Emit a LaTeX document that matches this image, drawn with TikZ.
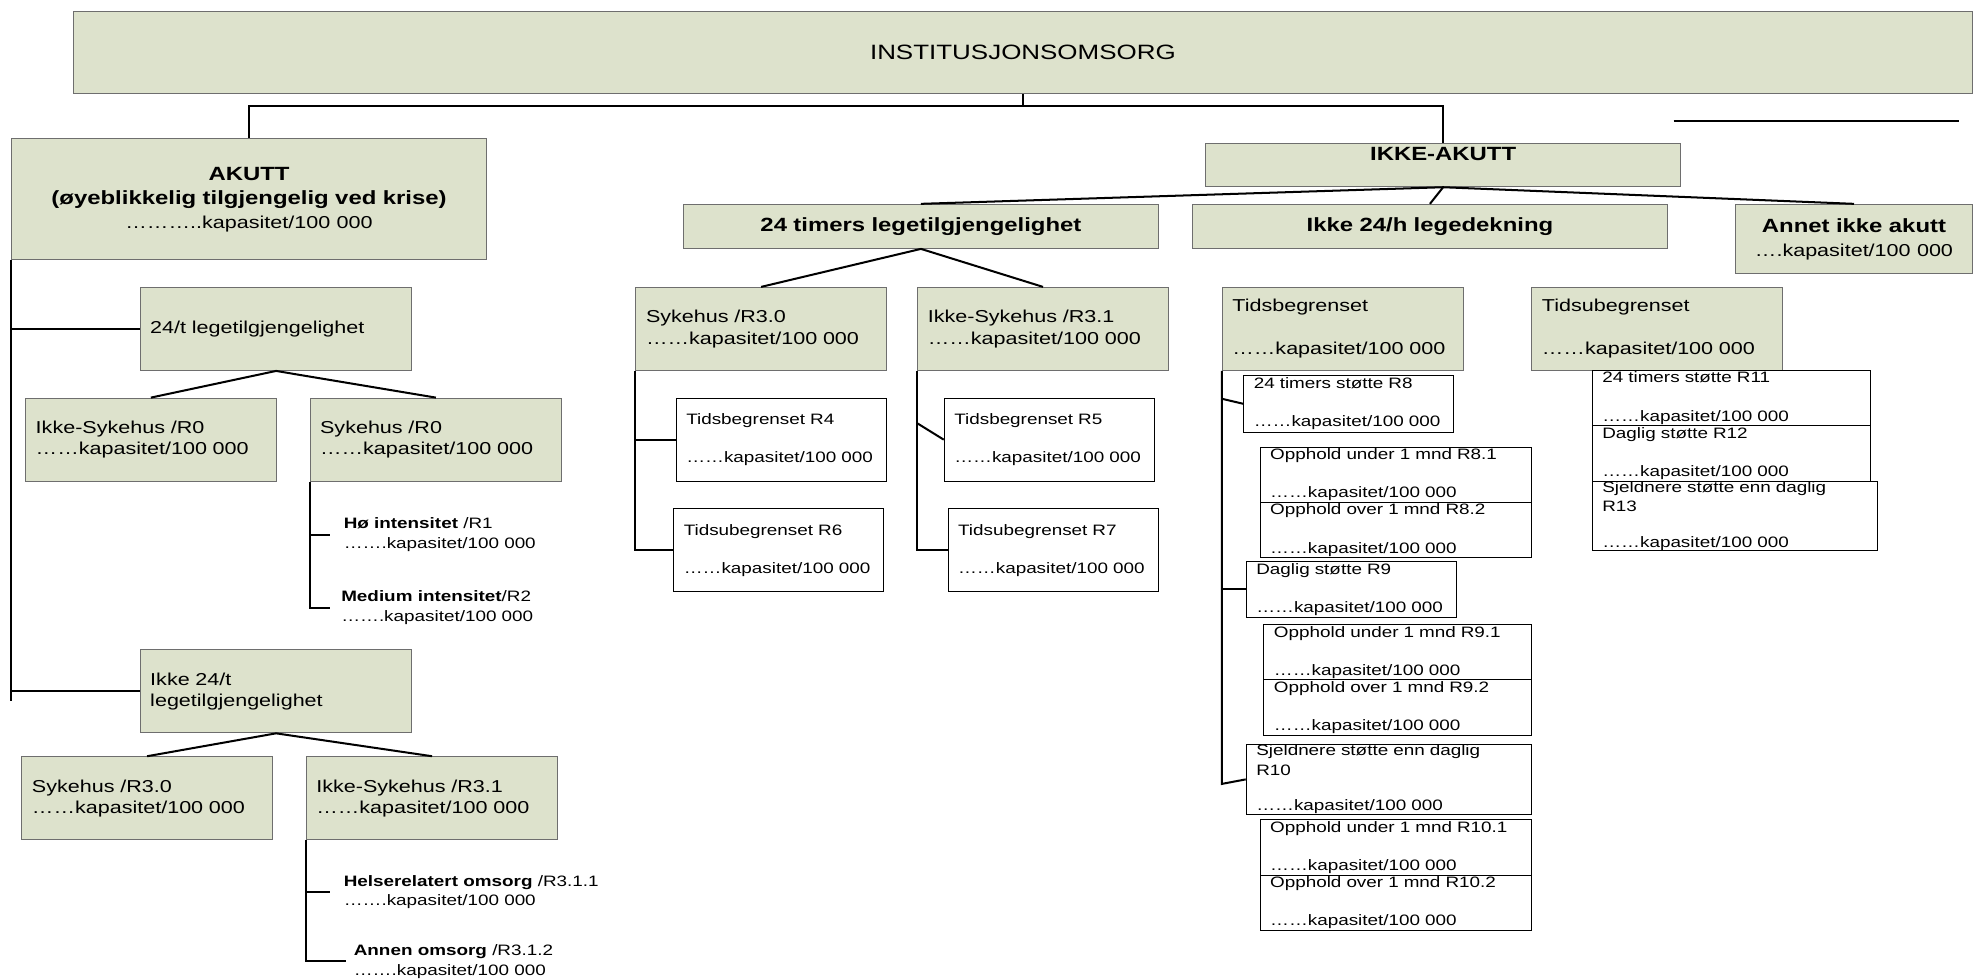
\documentclass[tikz,border=0pt]{standalone}
\usepackage{fontspec}
\setmainfont{Liberation Sans}[FakeStretch=1.25]
\usetikzlibrary{calc}
\definecolor{boxgreen}{RGB}{221,226,204}
\definecolor{boxline}{RGB}{110,110,110}
\newcommand{\fsinst}{\fontsize{16.5}{20}\selectfont}
\newcommand{\fsbold}{\fontsize{15.2}{19}\selectfont\bfseries}
\newcommand{\fsmain}{\fontsize{13.7}{17}\selectfont}
\newcommand{\fssmall}{\fontsize{12}{15.5}\selectfont}
\newcommand{\kap}{……kapasitet/100 000}
\tikzset{
boxbase/.style={rectangle, line width=0.8pt, anchor=north west, inner xsep=8pt, inner ysep=0pt},
grbox/.style={boxbase, draw=boxline, fill=boxgreen, align=left, font=\fsmain},
hdbox/.style={boxbase, draw=boxline, fill=boxgreen, align=center, font=\fsbold},
whbox/.style={boxbase, draw=black, fill=white, align=left, font=\fssmall},
sz/.style 2 args={minimum width=#1pt, minimum height=#2pt, text width=#1pt-16pt},
plaintxt/.style={anchor=west, inner sep=0pt, align=left, font=\fssmall},
conn/.style={line width=1.6pt},
}

\begin{document}
\begin{tikzpicture}[x=1pt,y=1pt]
\useasboundingbox (0,0) rectangle (1568,-778);

\node[boxbase, draw=boxline, fill=boxgreen, font=\fsinst, minimum width=1509pt, minimum height=65pt] (inst) at (58,-9) {INSTITUSJONSOMSORG};

\node[hdbox, sz={377}{96}] (akutt) at (9,-110) {AKUTT\\(øyeblikkelig tilgjengelig ved krise)\\{\mdseries\fontsize{13.7}{19}\selectfont ………..kapasitet/100 000}};
\node[grbox, sz={216}{66}] (leg24) at (111,-228) {24/t legetilgjengelighet};
\node[grbox, sz={199}{66}] (ikke_syk_r0) at (20,-316) {Ikke-Sykehus /R0\\\kap};
\node[grbox, sz={200}{66}] (syk_r0) at (246,-316) {Sykehus /R0\\\kap};
\node[plaintxt] (hoy) at (273,-425) {{\bfseries Hø intensitet} /R1\\…….kapasitet/100 000};
\node[plaintxt] (medium) at (271,-483) {{\bfseries Medium intensitet}/R2\\…….kapasitet/100 000};
\node[grbox, sz={216}{66}] (ikke_leg24) at (111,-516) {Ikke 24/t\\legetilgjengelighet};
\node[grbox, sz={199}{66}] (syk_r30_a) at (17,-601) {Sykehus /R3.0\\\kap};
\node[grbox, sz={200}{66}] (ikke_syk_r31_a) at (243,-601) {Ikke-Sykehus /R3.1\\\kap};
\node[plaintxt] (helse) at (273,-709) {{\bfseries Helserelatert omsorg} /R3.1.1\\…….kapasitet/100 000};
\node[plaintxt] (annen) at (281,-764) {{\bfseries Annen omsorg} /R3.1.2\\…….kapasitet/100 000};

\node[boxbase, draw=boxline, fill=boxgreen, font=\fsbold, minimum width=377pt, text height=13.5pt, text depth=20.5pt] (ikke_akutt) at (958,-114) {IKKE-AKUTT};
\node[hdbox, sz={377}{35}] (timer24) at (543,-162) {24 timers legetilgjengelighet};
\node[hdbox, sz={378}{35}] (ikke24h) at (947,-162) {Ikke 24/h legedekning};
\node[hdbox, sz={188}{55}] (annet) at (1379,-162) {Annet ikke akutt\\{\mdseries\fsmain ….kapasitet/100 000}};

\node[grbox, sz={199}{66}] (syk_r30_b) at (505,-228) {Sykehus /R3.0\\\kap};
\node[grbox, sz={199}{66}] (ikke_syk_r31_b) at (729,-228) {Ikke-Sykehus /R3.1\\\kap};
\node[whbox, sz={167}{66}] (r4) at (537,-316) {Tidsbegrenset R4\\[15pt]\kap};
\node[whbox, sz={167}{66}] (r6) at (535,-404) {Tidsubegrenset R6\\[15pt]\kap};
\node[whbox, sz={167}{66}] (r5) at (750,-316) {Tidsbegrenset R5\\[15pt]\kap};
\node[whbox, sz={167}{66}] (r7) at (753,-404) {Tidsubegrenset R7\\[15pt]\kap};

\node[grbox, sz={192}{66}] (tidsbeg) at (971,-228) {Tidsbegrenset\\[17pt]\kap};
\node[grbox, sz={199}{66}] (tidsubeg) at (1217,-228) {Tidsubegrenset\\[17pt]\kap};
\node[whbox, sz={167}{45}] (r8) at (988,-298) {24 timers støtte R8\\[15pt]\kap};
\node[whbox, sz={216}{44}] (r81) at (1001,-355) {Opphold under 1 mnd R8.1\\[15pt]\kap};
\node[whbox, sz={216}{44}] (r82) at (1001,-399) {Opphold over 1 mnd R8.2\\[15pt]\kap};
\node[whbox, sz={167}{44}] (r9) at (990,-446) {Daglig støtte R9\\[15pt]\kap};
\node[whbox, sz={213}{44}] (r91) at (1004,-496) {Opphold under 1 mnd R9.1\\[15pt]\kap};
\node[whbox, sz={213}{44}] (r92) at (1004,-540) {Opphold over 1 mnd R9.2\\[15pt]\kap};
\node[whbox, sz={227}{56}] (r10) at (990,-591) {Sjeldnere støtte enn daglig\\R10\\[12.5pt]\kap};
\node[whbox, sz={216}{44}] (r101) at (1001,-651) {Opphold under 1 mnd R10.1\\[15pt]\kap};
\node[whbox, sz={216}{44}] (r102) at (1001,-695) {Opphold over 1 mnd R10.2\\[15pt]\kap};
\node[whbox, sz={221}{44}] (r11) at (1265,-294) {24 timers støtte R11\\[15pt]\kap};
\node[whbox, sz={221}{44}] (r12) at (1265,-338) {Daglig støtte R12\\[15pt]\kap};
\node[whbox, sz={227}{55}] (r13) at (1265,-382) {Sjeldnere støtte enn daglig\\R13\\[12.5pt]\kap};

\coordinate (bus) at (inst.south |- 0,-84);
\draw[conn] (inst.south) -- (bus);
\draw[conn] (bus) -| (akutt.north);
\draw[conn] (bus) -| (ikke_akutt.north);
\coordinate (rl_a) at (1330,-96);
\coordinate (rl_b) at (1557,-96);
\draw[conn] (rl_a) -- (rl_b);

\coordinate (sp_end) at (akutt.west |- 0,-557);
\draw[conn] (akutt.south west) -- (sp_end);
\draw[conn] (akutt.south west) |- (leg24.west);
\draw[conn] (akutt.south west) |- (ikke_leg24.west);
\draw[conn] (leg24.south) -- (ikke_syk_r0.north);
\draw[conn] (leg24.south) -- (syk_r0.north);
\draw[conn, shorten >=11pt] (syk_r0.south west) |- (hoy.west);
\draw[conn, shorten >=9pt] (syk_r0.south west) |- (medium.west);
\draw[conn] (ikke_leg24.south) -- (syk_r30_a.north);
\draw[conn] (ikke_leg24.south) -- (ikke_syk_r31_a.north);
\draw[conn, shorten >=11pt] (ikke_syk_r31_a.south west) |- (helse.west);
\draw[conn, shorten >=6pt] (ikke_syk_r31_a.south west) |- (annen.west);

\draw[conn] (ikke_akutt.south) -- (timer24.north);
\draw[conn] (ikke_akutt.south) -- (ikke24h.north);
\draw[conn] (ikke_akutt.south) -- (annet.north);
\draw[conn] (timer24.south) -- (syk_r30_b.north);
\draw[conn] (timer24.south) -- (ikke_syk_r31_b.north);
\draw[conn] (syk_r30_b.south west) |- (r4.west);
\draw[conn] (syk_r30_b.south west) |- (r6.west);
\draw[conn] (ikke_syk_r31_b.south west) |- (r7.west);
\draw[conn] ($(ikke_syk_r31_b.west |- r5.west)+(0,13)$) -- (r5.west);

\coordinate (tb_end) at (tidsbeg.west |- 0,-623);
\draw[conn] (tidsbeg.south west) -- (tb_end) -- (r10.west);
\draw[conn] ($(tidsbeg.west |- r8.west)+(0,4)$) -- (r8.west);
\draw[conn] (tidsbeg.west |- r9.west) -- (r9.west);
\end{tikzpicture}
\end{document}
